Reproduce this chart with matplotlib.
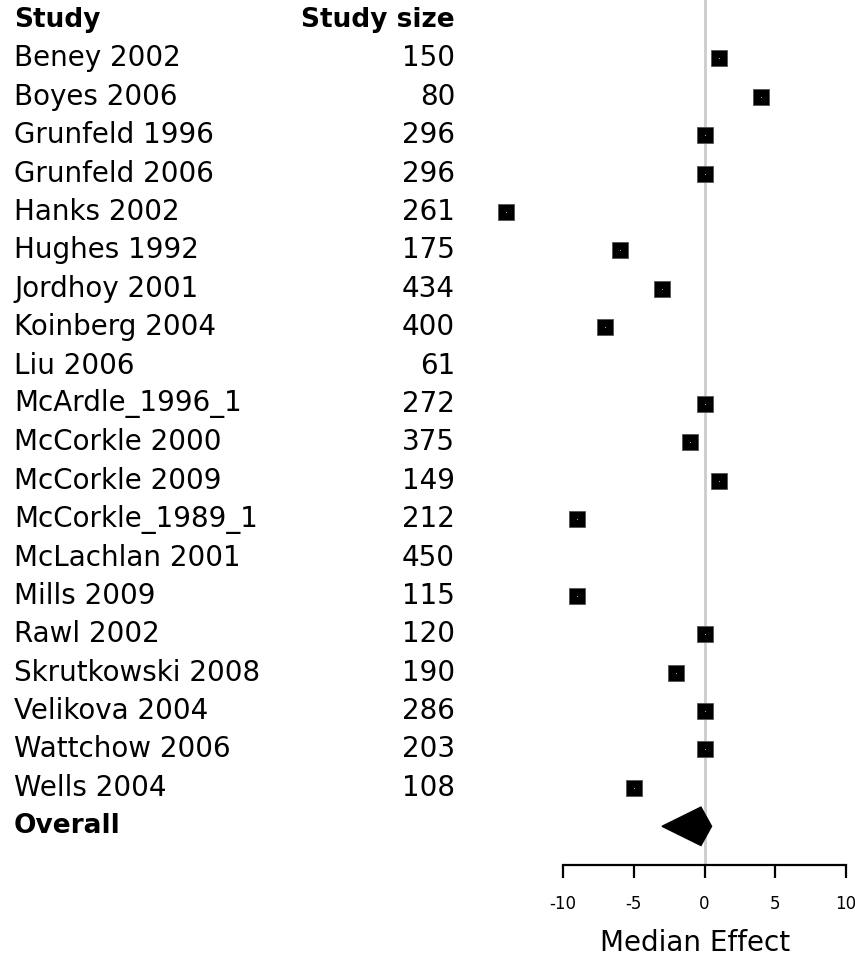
import matplotlib.pyplot as plt
import numpy as np

plt.rcParams["axes.unicode_minus"] = False

# Study data
studies = ["Beney 2002", "Boyes 2006", "Grunfeld 1996", "Grunfeld 2006", "Hanks 2002",
           "Hughes 1992", "Jordhoy 2001", "Koinberg 2004", "Liu 2006", "McArdle_1996_1",
           "McCorkle 2000", "McCorkle 2009", "McCorkle_1989_1", "McLachlan 2001", "Mills 2009",
           "Rawl 2002", "Skrutkowski 2008", "Velikova 2004", "Wattchow 2006", "Wells 2004"]
sizes = [150, 80, 296, 296, 261, 175, 434, 400, 61, 272,
         375, 149, 212, 450, 115, 120, 190, 286, 203, 108]
effects = [1, 4, 0, 0, -14, -6, -3, -7, np.nan, 0,
           -1, 1, -9, np.nan, -9, 0, -2, 0, 0, -5]
overall_est = -0.25
overall_lo = -3
overall_hi = 0.5

W, H = 855, 960
fig = plt.figure(figsize=(W / 100, H / 100), dpi=100)

# axes spans full width; pixel layout: -10 -> x=563, 10 -> x=846, axis line at y=865
px_per_unit = (846 - 563) / 20
x_left = -10 - 563 / px_per_unit
x_right = 10 + (W - 846) / px_per_unit
row_h = 38.4
y0 = 58.3
ax = fig.add_axes([0, 1 - 865 / H, 1, 865 / H])
ax.set_xlim(x_left, x_right)
ax.set_ylim((865 - y0) / row_h, -y0 / row_h)

n = len(studies)
rows = np.arange(n)
overall_row = n

# reference line at zero
ax.axvline(0, color="#cccccc", lw=2, zorder=0)

# study markers
ax.plot(effects, rows, linestyle="none", marker="s", markersize=11.5,
        markerfacecolor="black", markeredgecolor="#555555", markeredgewidth=0.6, zorder=3)
ax.plot(effects, rows, linestyle="none", marker="o", markersize=0.8,
        markerfacecolor="#bbbbbb", markeredgecolor="none", zorder=4)

# overall diamond
ax.fill([overall_lo, overall_est, overall_hi, overall_est],
        [overall_row, overall_row - 0.5, overall_row, overall_row + 0.5],
        color="black", zorder=3)

# text columns
tr = ax.get_yaxis_transform()
fs = 20
ax.text(14 / W, -1, "Study", transform=tr, ha="left", va="center", fontsize=fs - 1, fontweight="bold")
ax.text(455 / W, -1, "Study size", transform=tr, ha="right", va="center", fontsize=fs - 1, fontweight="bold")
for r, name, size in zip(rows, studies, sizes):
    ax.text(14 / W, r, name, transform=tr, ha="left", va="center", fontsize=fs)
    ax.text(455 / W, r, str(size), transform=tr, ha="right", va="center", fontsize=fs)
ax.text(14 / W, overall_row, "Overall", transform=tr, ha="left", va="center", fontsize=fs - 1, fontweight="bold")

# axis styling
for s in ["top", "left", "right"]:
    ax.spines[s].set_visible(False)
ax.spines["bottom"].set_bounds(-10, 10)
ax.spines["bottom"].set_linewidth(1.6)
ax.set_yticks([])
ax.set_xticks([-10, -5, 0, 5, 10])
ax.tick_params(axis="x", direction="out", length=9.5, width=1.6, pad=12, labelsize=12)
ax.set_xlabel("Median Effect", fontsize=20)
ax.xaxis.set_label_coords(695 / W, -64 / 865)
ax.set_facecolor("white")

fig.savefig("out.png", dpi=100)
